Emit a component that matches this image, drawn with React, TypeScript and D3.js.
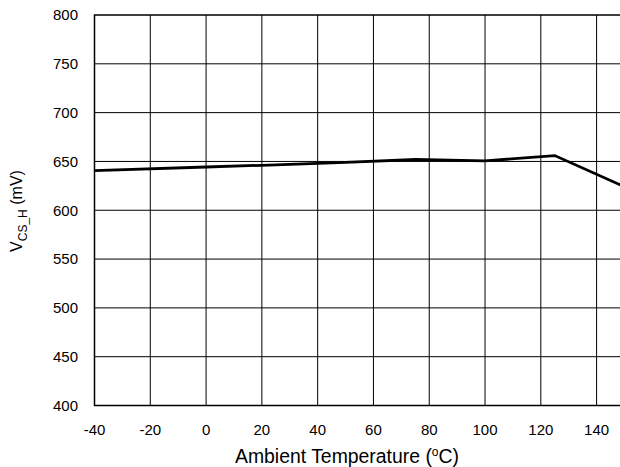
import React from 'react';
import { scaleLinear, line, range } from 'd3';

// temperature (°C) and V_CS_H (mV)
const temps = [-40, 0, 25, 50, 75, 100, 125, 150];
const vcsh = [640.5, 644.3, 646.5, 649, 652, 650.5, 656, 624];
const xTicks = range(-40, 141, 20);
const yTicks = range(400, 801, 50);

const W = 620;
const H = 467;
const font = 'Liberation Sans, Arial, sans-serif';

export default function App() {
  document.body.style.margin = '0';
  const x = scaleLinear().domain([-40, 150]).range([94.5, 624.5]);
  const y = scaleLinear().domain([400, 800]).range([405.5, 15]);
  const path = line<number>()
    .x((d, i) => x(temps[i]))
    .y(d => y(d))(vcsh);

  return (
    <svg width={W} height={H} style={{ display: 'block', background: '#fff' }}>
      <g stroke="#000" strokeWidth={1}>
        {xTicks.slice(1).map(t => (
          <line key={t} x1={x(t)} x2={x(t)} y1={y(800)} y2={y(400)} />
        ))}
        {yTicks.slice(1, -1).map(t => (
          <line key={t} x1={x(-40)} x2={x(150)} y1={y(t)} y2={y(t)} />
        ))}
      </g>
      <rect x={x(-40)} y={y(800)} width={x(150) - x(-40)} height={y(400) - y(800)}
        fill="none" stroke="#000" strokeWidth={1.5} />
      <path d={path || ''} fill="none" stroke="#000" strokeWidth={2.8} strokeLinejoin="miter" />
      <g fontFamily={font} fontSize={15} fill="#000">
        {yTicks.map(t => (
          <text key={t} x={78} y={y(t)} dy="0.35em" textAnchor="end">{t}</text>
        ))}
        {xTicks.map(t => (
          <text key={t} x={x(t)} y={430} dy="0.35em" textAnchor="middle">{t}</text>
        ))}
      </g>
      <text x={347} y={463} fontFamily={font} fontSize={19.4} textAnchor="middle">
        Ambient Temperature (<tspan dy={-7} fontSize={12}>o</tspan><tspan dy={7}>C)</tspan>
      </text>
      <text transform={`translate(22,211) rotate(-90)`} fontFamily={font} fontSize={16} textAnchor="middle">
        V<tspan dy={5} fontSize={12}>CS_H</tspan><tspan dy={-5}> (mV)</tspan>
      </text>
    </svg>
  );
}
